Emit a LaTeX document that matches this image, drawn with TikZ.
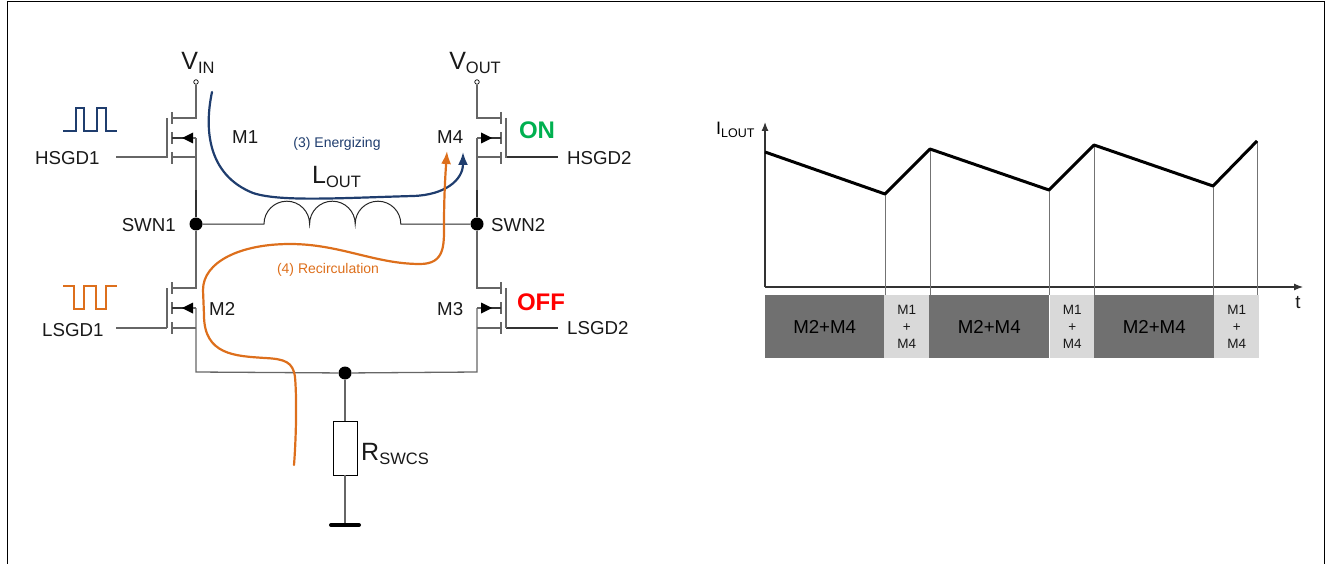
\documentclass[tikz,border=0pt]{standalone}
\usepackage{fontspec}
\setmainfont{Liberation Sans}
\usetikzlibrary{arrows.meta}
\definecolor{wire}{HTML}{666666}
\definecolor{wired}{HTML}{333333}
\definecolor{blu}{HTML}{1F3D6E}
\definecolor{org}{HTML}{DD6F1C}
\definecolor{dk}{HTML}{707070}
\definecolor{lt}{HTML}{D9D9D9}
\definecolor{ongreen}{HTML}{00B050}
\tikzset{
 wirel/.style={draw=wire,line width=1.3pt},
 wired/.style={draw=wired,line width=1.2pt},
 dot/.style={circle,fill=black,inner sep=0pt,minimum size=13pt},
 term/.style={circle,draw=black,fill=white,line width=.7pt,inner sep=0pt,minimum size=4.5pt},
 lab/.style={inner sep=0pt,font=\fontsize{18.7}{20}\selectfont,text=black!90},
 vlab/.style={inner sep=0pt,font=\fontsize{25}{26}\selectfont,text=black!90},
 flow/.style={line width=2.2pt,line cap=round},
 tipb/.style={-{Latex[length=13pt,width=10pt]}},
 seg/.style={inner sep=0pt,minimum height=63pt,align=center,anchor=north west},
 segd/.style={seg,fill=dk,font=\fontsize{18.7}{20}\selectfont,text=black},
 segl/.style={seg,fill=lt,font=\fontsize{13.5}{17}\selectfont,text=black!90},
}
\newcommand{\vsub}[3][16.5]{#2\raisebox{-3.5pt}{\fontsize{#1}{16}\selectfont #3}}
\begin{document}
\begin{tikzpicture}[x=1pt,y=-1pt]
\useasboundingbox (0,0) rectangle (1332,564);
% frame
\draw[black,line width=1pt] (7,564) -- (7,2) -- (1324,2) -- (1324,564);
% nodes
\node[term] (vin) at (196,82) {};
\node[term] (vout) at (477,82) {};
\node[dot] (swn1) at (196,224) {};
\node[dot] (swn2) at (477,224) {};
\node[dot] (bot) at (345,373) {};
\node[draw=black,fill=white,line width=.8pt,minimum width=24pt,minimum height=54pt,inner sep=0pt] (rs) at (345,448) {};
\coordinate (gnd) at (345,525);
% wires
\draw[wirel] (vin) |- (172,118);
\draw[wirel] (196,138) -- (196,190);
\draw[wirel] (116,157) -- (167,157);
\draw[wirel] (172,157) -- (196,157);
\draw[wired] (196,190) -- (swn1);
\draw[wirel] (swn1) -- (196,288) -- (172,288);
\draw[wirel] (196,328) -- (172,328);
\draw[wirel] (116,328) -- (167,328);
\draw[wirel] (196,308) -- (196,372) -- (bot);
\draw[wirel] (bot) -- (477,372) -- (477,308);
\draw[wirel] (vout) |- (501,118);
\draw[wirel] (477,138) -- (477,190);
\draw[wirel] (477,157) -- (501,157);
\draw[wired] (506,157) -- (558,157);
\draw[wired] (477,190) -- (swn2);
\draw[wirel] (swn2) -- (477,288) -- (501,288);
\draw[wirel] (477,328) -- (501,328);
\draw[wired] (506,328) -- (558,328);
\draw[wirel] (bot) -- (rs);
\draw[wirel] (rs) -- (gnd);
\draw[black,line width=4pt,line cap=round] (331,525) -- (359,525);
% transistor plates
\foreach \yy in {0,170}{
 \draw[wirel] (167,{118+\yy}) -- (167,{157+\yy+1});
 \draw[wirel] (172,{112+\yy}) -- ++(0,12);
 \draw[wirel] (172,{132+\yy}) -- ++(0,12);
 \draw[wirel] (172,{152+\yy}) -- ++(0,12);
 \draw[wired] (172,{138+\yy}) -- (192,{138+\yy});
 \fill[black] (182,{138+\yy}) -- (193,{132.5+\yy}) -- (193,{143.5+\yy}) -- cycle;
 \draw[wirel] (193,{138+\yy}) -- (196,{138+\yy});
 \draw[wirel] (506,{118+\yy}) -- (506,{157+\yy+1});
 \draw[wirel] (501,{112+\yy}) -- ++(0,12);
 \draw[wirel] (501,{132+\yy}) -- ++(0,12);
 \draw[wirel] (501,{152+\yy}) -- ++(0,12);
 \draw[wired] (481,{138+\yy}) -- (501,{138+\yy});
 \fill[black] (492,{138+\yy}) -- (481,{132.5+\yy}) -- (481,{143.5+\yy}) -- cycle;
 \draw[wirel] (477,{138+\yy}) -- (481,{138+\yy});
}
% inductor
\draw[black!85,line width=1pt] (swn1) -- (264,224) arc[start angle=180,delta angle=180,radius=22.8] arc[start angle=180,delta angle=180,radius=22.8] arc[start angle=180,delta angle=180,radius=22.8] -- (swn2);
% pulses
\draw[blu,line width=1.8pt] (63,131) -- (76,131) -- (76,108) -- (84,108) -- (84,131) -- (97,131) -- (97,108) -- (106,108) -- (106,131) -- (117,131);
\draw[org,line width=1.8pt] (63,286) -- (74,286) -- (74,309) -- (84,309) -- (84,286) -- (96,286) -- (96,309) -- (106,309) -- (106,286) -- (117,286);
% labels
\node[vlab] (tvin) at (198,63) {\vsub{V}{IN}};
\node[vlab] (tvout) at (475,63) {\vsub{V}{OUT}};
\node[lab,anchor=west] (hs1) at (35,158) {HSGD1};
\node[lab,anchor=west] (ls1) at (42,330) {LSGD1};
\node[lab,anchor=west] (hs2) at (567,158) {HSGD2};
\node[lab,anchor=west] (ls2) at (567,328) {LSGD2};
\node[lab,anchor=east] (s1) at (176,225) {SWN1};
\node[lab,anchor=west] (s2) at (491,225) {SWN2};
\node[lab,anchor=west] (m1) at (232,137) {M1};
\node[lab,anchor=west] (m2) at (209,309) {M2};
\node[lab,anchor=west] (m3) at (437,309) {M3};
\node[lab,anchor=west] (m4) at (437,137) {M4};
\node[vlab,anchor=west] (lo) at (312,177) {\vsub{L}{OUT}};
\node[vlab,anchor=west] (rl) at (361,454) {\vsub{R}{SWCS}};
\node[inner sep=0pt,font=\bfseries\fontsize{24}{26}\selectfont,text=ongreen] (on) at (537,130) {ON};
\node[inner sep=0pt,font=\bfseries\fontsize{24}{26}\selectfont,text=red] (off) at (541,302) {OFF};
\node[inner sep=0pt,font=\fontsize{14}{16}\selectfont,text=blu] (en) at (337,144) {(3) Energizing};
\node[inner sep=0pt,font=\fontsize{14}{16}\selectfont,text=org] (re) at (328,270) {(4) Recirculation};
% flows
\coordinate (fb0) at (212,92);
\coordinate (fb1) at (463,152);
\draw[blu,flow,tipb] (fb0) .. controls (204,130) and (208,175) .. (253,193) .. controls (280,202) and (340,198) .. (413,196) .. controls (445,195) and (463,180) .. (fb1);
\coordinate (fo0) at (294,465);
\coordinate (fo1) at (447,151);
\draw[org,flow,tipb] (fo0) .. controls (296,440) and (297,400) .. (295,377) .. controls (293,362) and (285,359) .. (265,358) .. controls (235,356) and (204,355) .. (204,315) -- (203,290) .. controls (203,262) and (240,244) .. (290,244) .. controls (340,244) and (375,264) .. (420,264) .. controls (445,264) and (444,245) .. (444,225) .. controls (444,200) and (445,180) .. (fo1);
% chart
\coordinate (o) at (765,287);
\coordinate (ax) at (1303,287);
\coordinate (ay) at (765,122);
\draw[black!80,line width=1.2pt,-{Latex[length=9pt,width=7pt]}] (o) -- (ax);
\draw[black!80,line width=1.2pt,-{Latex[length=9pt,width=7pt]}] (o) -- (ay);
\foreach \xx/\yy in {885/194,930/149,1049/190,1094/145,1213/186,1257/141}{
 \draw[black!55,line width=.9pt] (\xx,\yy) -- (\xx,295);
}
\draw[black,line width=3pt,line join=round] (765,152) -- (885,194) -- (930,149) -- (1049,190) -- (1094,145) -- (1213,186) -- (1257,141);
\node[inner sep=0pt,font=\fontsize{18}{18}\selectfont,text=black,anchor=west] (il) at (716,130) {\vsub[12.5]{I}{LOUT}};
\node[lab] (t) at (1298,303) {t};
% bars
\node[segd,minimum width=119pt] (d1) at (765,295) {M2+M4};
\node[segl,minimum width=45pt] (l1) at (884,295) {M1\\+\\M4};
\node[segd,minimum width=120pt] (d2) at (929,295) {M2+M4};
\node[segl,minimum width=44pt] (l2) at (1050,295) {M1\\+\\M4};
\node[segd,minimum width=120pt] (d3) at (1094,295) {M2+M4};
\node[segl,minimum width=45pt] (l3) at (1214,295) {M1\\+\\M4};
\end{tikzpicture}
\end{document}
